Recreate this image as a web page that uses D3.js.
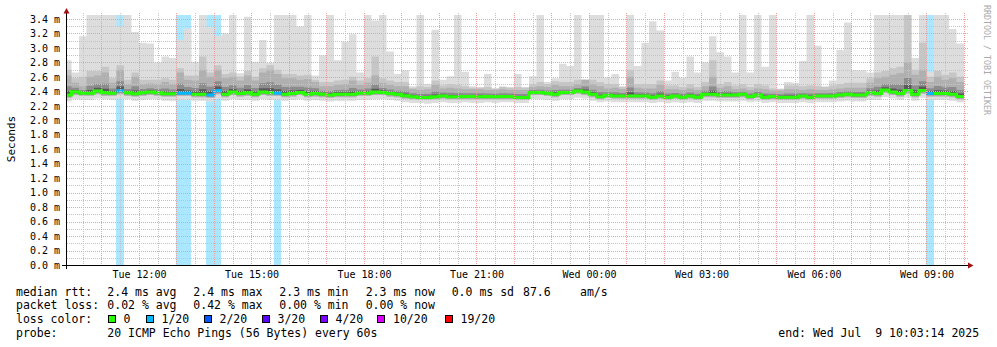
<!DOCTYPE html>
<html>
<head>
<meta charset="utf-8">
<script src="https://cdn.jsdelivr.net/npm/d3@7"></script>
<style>
  body { margin: 0; background: #fff; }
  text { font-family: "DejaVu Sans Mono", monospace; fill: #000; white-space: pre; }
</style>
</head>
<body>
<div id="chart"></div>
<script>
// 12 minute bins, first one starts Tue 10:00 (UTC used as wall clock)
var medianRtt = [
  2.35,2.395,2.375,2.375,2.405,2.38,2.375,2.41,2.38,2.365,
  2.38,2.39,2.38,2.365,2.365,2.375,2.375,2.36,2.36,2.35,
  2.41,2.36,2.39,2.37,2.38,2.36,2.39,2.38,2.375,2.36,
  2.37,2.385,2.36,2.37,2.36,2.35,2.36,2.36,2.36,2.375,
  2.375,2.39,2.385,2.37,2.36,2.34,2.325,2.315,2.315,2.325,
  2.335,2.325,2.325,2.33,2.33,2.325,2.33,2.325,2.33,2.33,
  2.315,2.315,2.385,2.385,2.375,2.36,2.385,2.385,2.405,2.39,
  2.36,2.325,2.345,2.335,2.335,2.335,2.335,2.335,2.32,2.335,
  2.32,2.335,2.32,2.335,2.32,2.36,2.36,2.35,2.35,2.35,
  2.36,2.33,2.35,2.32,2.33,2.32,2.32,2.32,2.335,2.32,
  2.335,2.335,2.335,2.35,2.36,2.35,2.35,2.38,2.37,2.42,
  2.39,2.37,2.41,2.36,2.41,2.37,2.37,2.37,2.36,2.33
];
var maxRtt = [
  2.83,2.66,3.16,3.5,3.5,3.5,3.5,3.30,3.5,3.22,
  3.07,3.06,2.80,2.88,2.86,3.11,3.27,2.81,3.5,3.29,
  3.16,3.20,3.5,2.65,3.43,2.81,3.11,2.79,3.5,3.5,
  3.5,3.30,3.5,2.62,2.90,3.5,2.83,3.09,3.19,2.66,
  3.5,3.38,3.5,2.95,2.64,2.69,2.47,3.5,2.50,3.25,
  2.56,2.61,3.5,2.67,2.47,2.46,2.64,2.44,2.47,2.46,
  2.64,2.46,2.61,3.5,2.53,2.58,2.78,2.75,3.5,2.56,
  3.5,3.5,2.59,2.64,2.47,3.5,2.75,3.07,3.37,3.24,
  2.55,2.67,2.59,2.88,2.66,2.80,3.16,2.94,2.88,2.66,
  3.5,2.66,3.5,2.74,3.5,2.44,2.53,2.52,2.82,3.5,
  3.03,2.47,2.55,2.97,3.35,2.69,2.69,2.66,3.5,3.5,
  3.5,3.5,3.5,2.86,3.5,2.67,3.5,3.5,3.26,3.06
];
// second highest ping
var hiRtt = [
  2.70,2.58,2.60,2.68,2.68,2.74,2.58,2.76,2.56,2.66,
  2.56,2.56,2.56,2.58,2.56,2.72,2.62,2.62,2.88,2.66,
  2.76,2.64,2.66,2.60,2.68,2.60,2.72,2.76,2.70,2.64,
  2.64,2.62,2.63,2.56,2.53,2.53,2.55,2.56,2.60,2.55,
  2.58,2.88,2.58,2.55,2.53,2.53,2.45,2.47,2.46,2.55,
  2.48,2.50,2.49,2.47,2.45,2.45,2.46,2.44,2.46,2.45,
  2.46,2.45,2.50,2.53,2.50,2.54,2.53,2.53,2.56,2.56,
  2.56,2.53,2.50,2.50,2.46,2.70,2.50,2.50,2.50,2.55,
  2.48,2.48,2.46,2.50,2.46,2.53,2.83,2.50,2.53,2.48,
  2.50,2.46,2.50,2.48,2.44,2.43,2.48,2.48,2.47,2.48,
  2.47,2.46,2.48,2.50,2.52,2.52,2.52,2.58,2.66,2.68,
  2.72,2.74,3.50,2.70,3.07,2.60,2.68,2.63,2.66,2.60
];
// top of the dense smoke
var upRtt = [
  2.62,2.52,2.47,2.60,2.62,2.66,2.52,2.70,2.50,2.60,
  2.50,2.51,2.50,2.53,2.50,2.66,2.56,2.55,2.70,2.60,
  2.70,2.58,2.60,2.55,2.62,2.55,2.66,2.70,2.64,2.58,
  2.58,2.56,2.57,2.53,2.47,2.47,2.49,2.50,2.55,2.49,
  2.52,2.62,2.52,2.49,2.47,2.47,2.43,2.42,2.43,2.49,
  2.44,2.45,2.44,2.43,2.43,2.43,2.42,2.42,2.43,2.42,
  2.42,2.42,2.46,2.47,2.46,2.49,2.47,2.47,2.50,2.56,
  2.50,2.47,2.44,2.45,2.43,2.60,2.45,2.44,2.44,2.49,
  2.43,2.43,2.42,2.44,2.42,2.47,2.60,2.45,2.47,2.43,
  2.44,2.42,2.44,2.43,2.41,2.41,2.43,2.43,2.42,2.43,
  2.42,2.42,2.43,2.44,2.45,2.45,2.45,2.52,2.58,2.60,
  2.63,2.65,2.80,2.63,2.70,2.53,2.60,2.56,2.58,2.53
];
// bottom of the dense smoke
var loRtt = [
  2.31,2.35,2.34,2.34,2.36,2.34,2.34,2.36,2.34,2.33,
  2.34,2.35,2.34,2.33,2.33,2.34,2.34,2.32,2.32,2.31,
  2.36,2.32,2.35,2.33,2.34,2.32,2.35,2.34,2.34,2.32,
  2.33,2.35,2.32,2.33,2.32,2.31,2.32,2.32,2.32,2.34,
  2.34,2.35,2.35,2.33,2.32,2.30,2.29,2.28,2.28,2.29,
  2.30,2.29,2.29,2.29,2.29,2.29,2.29,2.29,2.29,2.29,
  2.28,2.28,2.35,2.35,2.34,2.32,2.35,2.35,2.37,2.35,
  2.32,2.29,2.31,2.30,2.30,2.30,2.30,2.30,2.28,2.30,
  2.28,2.30,2.28,2.30,2.28,2.32,2.32,2.31,2.31,2.31,
  2.32,2.29,2.31,2.28,2.29,2.28,2.28,2.28,2.30,2.28,
  2.30,2.30,2.30,2.31,2.32,2.31,2.31,2.34,2.33,2.38,
  2.35,2.33,2.37,2.32,2.37,2.33,2.33,2.33,2.32,2.29
];
var minRtt = [
  2.26,2.29,2.28,2.28,2.30,2.29,2.28,2.30,2.29,2.27,
  2.28,2.29,2.29,2.27,2.27,2.28,2.28,2.27,2.27,2.26,
  2.30,2.27,2.29,2.28,2.28,2.27,2.29,2.28,2.28,2.27,
  2.28,2.29,2.27,2.28,2.27,2.26,2.27,2.27,2.27,2.28,
  2.28,2.29,2.29,2.28,2.27,2.25,2.24,2.24,2.23,2.24,
  2.25,2.24,2.24,2.25,2.24,2.24,2.25,2.24,2.25,2.25,
  2.24,2.24,2.29,2.29,2.28,2.27,2.29,2.29,2.31,2.30,
  2.27,2.25,2.26,2.25,2.25,2.25,2.25,2.25,2.24,2.25,
  2.24,2.25,2.24,2.25,2.24,2.27,2.27,2.26,2.26,2.26,
  2.27,2.25,2.26,2.24,2.25,2.24,2.24,2.24,2.25,2.24,
  2.25,2.25,2.25,2.26,2.27,2.26,2.26,2.28,2.28,2.32,
  2.30,2.28,2.31,2.27,2.31,2.28,2.28,2.28,2.27,2.25
];
// lost pings out of 20
var lossCount = [
  0,0,0,0,0,0,0,1,0,0, 0,0,0,0,0,1,1,0,0,1,
  1,0,0,0,0,0,0,0,1,0, 0,0,0,0,0,0,0,0,0,0,
  0,0,0,0,0,0,0,0,0,0, 0,0,0,0,0,0,0,0,0,0,
  0,0,0,0,0,0,0,0,0,0, 0,0,0,0,0,0,0,0,0,0,
  0,0,0,0,0,0,0,0,0,0, 0,0,0,0,0,0,0,0,0,0,
  0,0,0,0,0,0,0,0,0,0, 0,0,0,0,0,1,0,0,0,0
];

var lossLabels = ["0", "1/20", "2/20", "3/20", "4/20", "10/20", "19/20"];
var lossSteps = [1, 2, 3, 4, 10, 19];
var lossColors = ["#26ff00", "#00b8ff", "#0059ff", "#5e00ff", "#7e00ff", "#dd00ff", "#ff0000"];
var yTicks = [0, 0.2, 0.4, 0.6, 0.8, 1.0, 1.2, 1.4, 1.6, 1.8, 2.0, 2.2, 2.4, 2.6, 2.8, 3.0, 3.2, 3.4];

var rttStats = ["2.4 ms avg", "2.4 ms max", "2.3 ms min", "2.3 ms now", "0.0 ms sd"];
var lossStats = ["0.02 % avg", "0.42 % max", "0.00 % min", "0.00 % now"];
var amsValue = "87.6";

var W = 997, H = 347;
var pLeft = 66, pRight = 966, pTop = 15, pBottom = 265;

var svg = d3.select("#chart")
  .append("svg")
    .attr("width", W)
    .attr("height", H);

var start = new Date(Date.UTC(2025, 6, 8, 10, 3, 14)),
    end = new Date(Date.UTC(2025, 6, 9, 10, 3, 14));

var x = d3.scaleUtc().domain([start, end]).range([pLeft, pRight]);
var y = d3.scaleLinear().domain([0, 3.455]).range([pBottom, pTop]);
var lossColor = d3.scaleThreshold().domain(lossSteps).range(lossColors);

var binStart = Date.UTC(2025, 6, 8, 10, 0, 0), step = 12 * 60 * 1000;
var bins = medianRtt.map(function (m, i) {
  return {
    t: new Date(binStart + i * step), t1: new Date(binStart + (i + 1) * step),
    med: m, max: maxRtt[i], hi: hiRtt[i], up: upRtt[i], lo: loRtt[i], min: minRtt[i],
    loss: lossCount[i]
  };
});

svg.append("defs").append("clipPath").attr("id", "plotclip")
  .append("rect").attr("x", 67).attr("y", pTop).attr("width", pRight - 67).attr("height", pBottom - pTop);

var plot = svg.append("g").attr("clip-path", "url(#plotclip)");

// loss background bars
plot.selectAll(".lossbar")
  .data(bins.filter(function (d) { return d.loss > 0; }))
  .enter().append("rect")
    .attr("x", function (d) { return x(d.t); })
    .attr("width", function (d) { return x(d.t1) - x(d.t); })
    .attr("y", pTop)
    .attr("height", pBottom - pTop)
    .attr("fill", function (d) { return d3.interpolateRgb("#fff", lossColor(d.loss))(0.33); })
    .attr("shape-rendering", "crispEdges");

// smoke bands, drawn as steps
var pts = [];
bins.forEach(function (d) { pts.push({t: d.t, d: d}); pts.push({t: d.t1, d: d}); });
var bands = [
  {c: "#dddddd", lo: function (d) { return d.min; }, hi: function (d) { return d.max; }},
  {c: "#c6c6c6", lo: function (d) { return d.lo; }, hi: function (d) { return d.hi; }},
  {c: "#b0b0b0", lo: function (d) { return d.lo; }, hi: function (d) { return d.up; }},
  {c: "#8c8c8c", lo: function (d) { return d.med - (d.med - d.lo) * 0.6; }, hi: function (d) { return d.med + (d.up - d.med) * 0.45; }},
  {c: "#5a5a5a", lo: function (d) { return d.med - (d.med - d.lo) * 0.3; }, hi: function (d) { return d.med + (d.up - d.med) * 0.2; }}
];
bands.forEach(function (b) {
  var area = d3.area()
    .x(function (p) { return x(p.t); })
    .y0(function (p) { return y(b.lo(p.d)); })
    .y1(function (p) { return y(b.hi(p.d)); });
  plot.append("path").attr("d", area(pts)).attr("fill", b.c);
});

// grid on top of smoke
var grid = svg.append("g").attr("stroke-dasharray", "1,1").attr("shape-rendering", "crispEdges");
d3.range(1, 35).forEach(function (i) {
  var major = i % 2 === 0;
  var yy = Math.round(y(i / 10)) + 0.5;
  grid.append("line")
    .attr("x1", 67).attr("x2", 968).attr("y1", yy).attr("y2", yy)
    .attr("stroke", major ? "#eea0a0" : "#c4c4c4");
});
d3.utcMinute.every(30).range(start, end).forEach(function (t) {
  var major = t.getUTCMinutes() === 0;
  var xx = Math.round(x(t)) + 0.5;
  grid.append("line")
    .attr("x1", xx).attr("x2", xx).attr("y1", 13).attr("y2", pBottom)
    .attr("stroke", major ? "#eea0a0" : "#c4c4c4");
});

// median line coloured by loss
var runs = [];
bins.forEach(function (d) {
  var last = runs[runs.length - 1];
  var c = lossColor(d.loss);
  if (last && last.c === c) last.pts.push(d); else runs.push({c: c, pts: [d]});
});
var medLine = d3.line().x(function (p) { return x(p[0]); }).y(function (p) { return y(p[1]); });
runs.forEach(function (r) {
  var p = [];
  r.pts.forEach(function (d) { p.push([d.t, d.med]); p.push([d.t1, d.med]); });
  plot.append("path").attr("d", medLine(p))
    .attr("fill", "none").attr("stroke", r.c).attr("stroke-width", 3);
});

// axes
var yAxis = svg.append("g")
  .attr("transform", "translate(" + pLeft + ",0)")
  .call(d3.axisLeft(y).tickValues(yTicks).tickSize(0).tickPadding(6)
    .tickFormat(function (v) { return d3.format(".1f")(v) + " m"; }));
yAxis.select(".domain").remove();
yAxis.selectAll("text").style("font-size", "10px").attr("font-family", null);

var xAxis = svg.append("g")
  .attr("transform", "translate(0," + pBottom + ")")
  .call(d3.axisBottom(x).ticks(d3.utcHour.every(3)).tickSize(0).tickPadding(6)
    .tickFormat(d3.utcFormat("%a %H:%M")));
xAxis.select(".domain").remove();
xAxis.selectAll("text").style("font-size", "10px").attr("font-family", null);

svg.append("line").attr("x1", 62).attr("x2", 969).attr("y1", 265.5).attr("y2", 265.5)
  .attr("stroke", "#000").attr("shape-rendering", "crispEdges");
svg.append("line").attr("x1", 66.5).attr("x2", 66.5).attr("y1", 269).attr("y2", 11)
  .attr("stroke", "#000").attr("shape-rendering", "crispEdges");
svg.append("path").attr("d", "M63.5,13.5 L66.5,8 L69.5,13.5 Z").attr("fill", "#a01010");
svg.append("path").attr("d", "M968,262.5 L973.5,265.5 L968,268.5 Z").attr("fill", "#a01010");

svg.append("text")
  .attr("transform", "translate(15,139) rotate(-90)")
  .attr("text-anchor", "middle")
  .style("font-size", "11px")
  .text("Seconds");

svg.append("text")
  .attr("transform", "translate(984,5) rotate(90)")
  .style("font-size", "8.3px")
  .style("fill", "#aaaaaa")
  .text("RRDTOOL / TOBI OETIKER");

// legend
var leg = svg.append("g").style("font-size", "11.5px");
var colX = [107.3, 193.3, 279.3, 365.7, 451.7];
leg.append("text").attr("x", 16).attr("y", 295.5).text("median rtt:");
rttStats.forEach(function (s, i) { leg.append("text").attr("x", colX[i]).attr("y", 295.5).text(s); });
leg.append("text").attr("x", 523).attr("y", 295.5).text(amsValue);
leg.append("text").attr("x", 580).attr("y", 295.5).text("am/s");

leg.append("text").attr("x", 16).attr("y", 309.3).text("packet loss:");
lossStats.forEach(function (s, i) { leg.append("text").attr("x", colX[i]).attr("y", 309.3).text(s); });

leg.append("text").attr("x", 16).attr("y", 323.2).text("loss color:");
var boxX = [108.5, 146.5, 204.5, 262.5, 320.5, 378, 445.5];
lossLabels.forEach(function (s, i) {
  leg.append("rect").attr("x", boxX[i] - 0.5).attr("y", 315.5).attr("width", 7).attr("height", 7)
    .attr("fill", lossColors[i]).attr("stroke", "#000").attr("stroke-width", 1)
    .attr("shape-rendering", "crispEdges");
  leg.append("text").attr("x", boxX[i] + 15).attr("y", 323.2).text(s);
});

leg.append("text").attr("x", 16).attr("y", 336.8).text("probe:");
leg.append("text").attr("x", 107.3).attr("y", 336.8).text("20 ICMP Echo Pings (56 Bytes) every 60s");
leg.append("text").attr("x", 778.3).attr("y", 336.8).attr("xml:space", "preserve").text("end: Wed Jul  9 10:03:14 2025");
</script>
</body>
</html>
